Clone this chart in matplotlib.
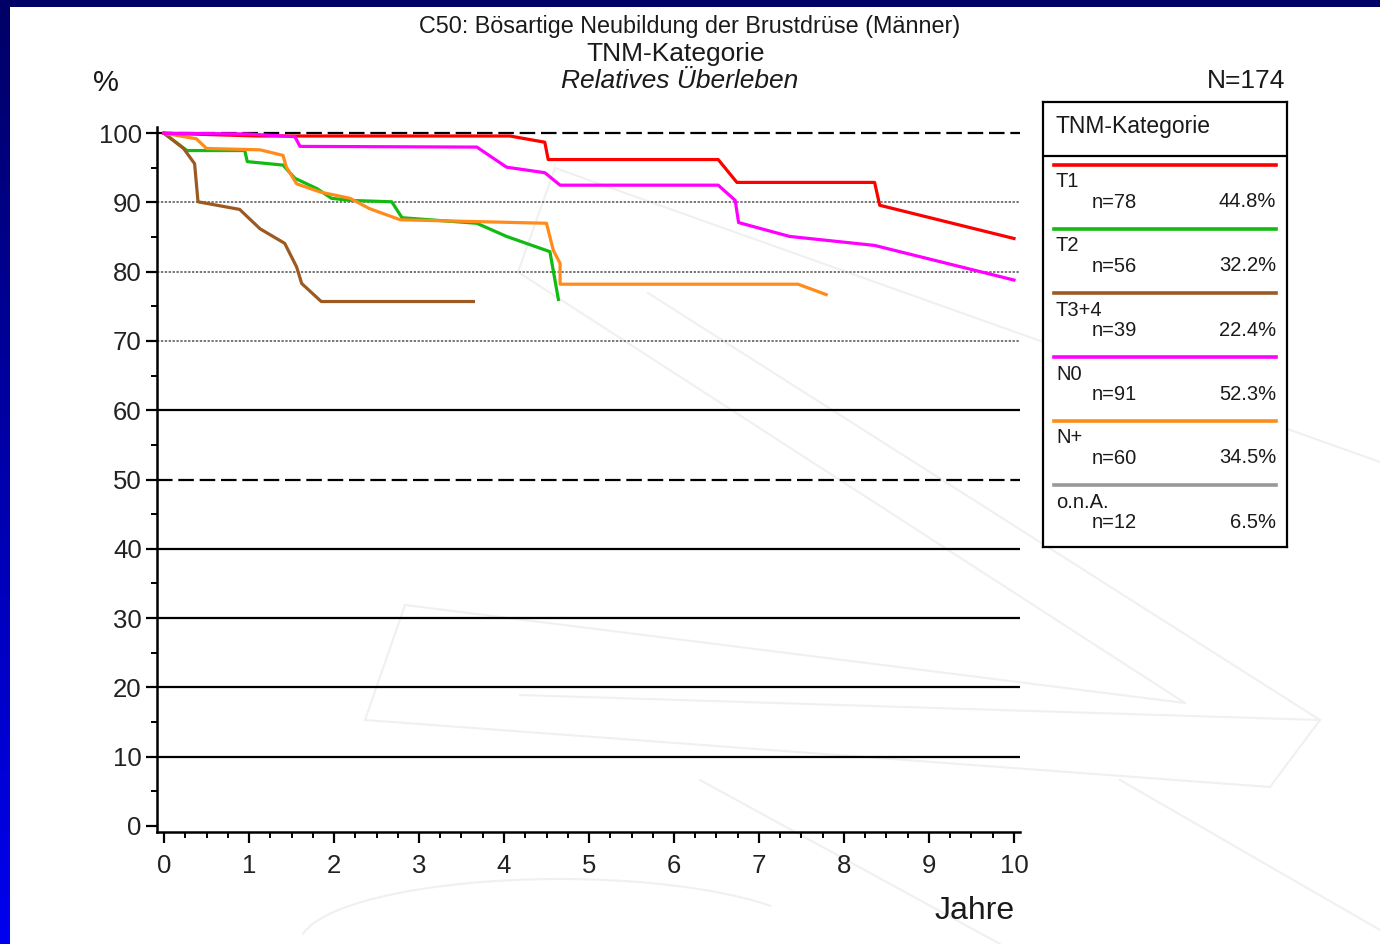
import numpy as np
import matplotlib
matplotlib.use("Agg")
import matplotlib.pyplot as plt
from matplotlib.colors import LinearSegmentedColormap

plt.rcParams['font.family'] = ['Liberation Sans', 'DejaVu Sans']

# ---------------- data ----------------
t1_t = [0, 1.1, 4.07, 4.48, 4.52, 6.52, 6.74, 8.36, 8.42, 10.0]
t1_v = [100, 99.6, 99.6, 98.7, 96.2, 96.2, 92.9, 92.9, 89.6, 84.8]

t2_t = [0, 0.27, 0.95, 0.98, 1.40, 1.54, 1.80, 1.97, 2.19, 2.68, 2.80, 3.68, 4.03, 4.54, 4.64]
t2_v = [100, 97.5, 97.5, 95.9, 95.4, 93.5, 92.0, 90.6, 90.3, 90.1, 87.8, 87.0, 85.1, 82.9, 76.0]

t34_t = [0, 0.23, 0.36, 0.40, 0.89, 1.13, 1.42, 1.56, 1.62, 1.85, 3.64]
t34_v = [100, 97.8, 95.6, 90.1, 89.0, 86.2, 84.1, 80.7, 78.3, 75.7, 75.7]

n0_t = [0, 0.97, 1.54, 1.60, 3.68, 4.03, 4.48, 4.66, 6.52, 6.72, 6.76, 7.36, 8.36, 10.0]
n0_v = [100, 99.9, 99.5, 98.1, 98.0, 95.1, 94.3, 92.5, 92.5, 90.3, 87.1, 85.1, 83.8, 78.8]

np_t = [0, 0.38, 0.50, 1.13, 1.40, 1.44, 1.56, 1.84, 2.19, 2.42, 2.78, 4.50, 4.58, 4.66, 4.66, 7.46, 7.79]
np_v = [100, 99.2, 97.8, 97.6, 96.8, 95.1, 92.7, 91.5, 90.6, 89.1, 87.5, 87.0, 83.1, 81.2, 78.2, 78.2, 76.7]

legend_names = ["T1", "T2", "T3+4", "N0", "N+", "o.n.A."]
legend_n = ["n=78", "n=56", "n=39", "n=91", "n=60", "n=12"]
legend_pct = ["44.8%", "32.2%", "22.4%", "52.3%", "34.5%", "6.5%"]
colors = ["#ff0000", "#11bb11", "#9c5a22", "#ff00ff", "#ff8c1a", "#999999"]

x_ticks = list(range(0, 11))
y_ticks = list(range(0, 101, 10))

title1 = "C50: Bösartige Neubildung der Brustdrüse (Männer)"
title2 = "TNM-Kategorie"
title3 = "Relatives Überleben"

# ---------------- figure ----------------
W, H = 1380, 944
fig = plt.figure(figsize=(W / 100, H / 100), dpi=100)
fig.patch.set_facecolor("white")

def fx(px):
    return px / W

def fy(py):
    return 1 - py / H

# blue frame (left gradient strip + top strip)
bg = fig.add_axes([0, 0, fx(10), 1])
grad = np.linspace(0, 1, 256).reshape(-1, 1)
cm = LinearSegmentedColormap.from_list("b", ["#000066", "#0000f0"])
bg.imshow(grad, aspect="auto", cmap=cm, extent=[0, 1, 0, 1], origin="upper")
bg.axis("off")
top = fig.add_axes([0, fy(7), 1, 7 / H])
top.set_facecolor("#000066")
top.set_xticks([]); top.set_yticks([])
for s in top.spines.values():
    s.set_visible(False)

# faint watermark lines
wm = fig.add_axes([0, 0, 1, 1], zorder=0)
wm.set_xlim(0, W); wm.set_ylim(H, 0); wm.axis("off")
wm_col = "#f0f0f0"
segs = [
    [(555, 168), (1380, 462)],
    [(555, 168), (518, 272)],
    [(518, 272), (1185, 703)],
    [(648, 293), (1320, 720)],
    [(405, 605), (1185, 703)],
    [(405, 605), (365, 720)],
    [(365, 720), (1270, 787)],
    [(1320, 720), (1270, 787)],
    [(520, 695), (1320, 720)],
    [(700, 780), (1000, 944)],
    [(1120, 780), (1380, 930)],
]
for (a, b) in segs:
    wm.plot([a[0], b[0]], [a[1], b[1]], color=wm_col, lw=1.5, zorder=0)
th = np.linspace(np.pi * 0.95, np.pi * 0.2, 60)
wm.plot(560 + 260 * np.cos(th), 944 - 65 * np.sin(th), color=wm_col, lw=1.5)

# main axes
ax = fig.add_axes([fx(157), fy(832), fx(1020) - fx(157), (832 - 127) / H], zorder=2)
ax.patch.set_alpha(0)
ax.set_xlim(-7 / 85, 10 + 6 / 85)
ax.set_ylim(-0.9, 100.9)

# reference lines
for yv in [60, 40, 30, 20, 10]:
    ax.axhline(yv, color="black", lw=1.6, zorder=1)
for yv in [100, 50]:
    ax.axhline(yv, color="black", lw=1.6, ls=(0, (7, 2.6)), zorder=1)
for yv in [90, 80, 70]:
    ax.axhline(yv, color="#777777", lw=1.4, ls=(0, (1.2, 0.8)), zorder=1)

lw = 2.3
ax.plot(t1_t, t1_v, color=colors[0], lw=lw, zorder=4)
ax.plot(t2_t, t2_v, color=colors[1], lw=lw, zorder=3)
ax.plot(t34_t, t34_v, color=colors[2], lw=lw, zorder=3)
ax.plot(n0_t, n0_v, color=colors[3], lw=lw, zorder=5)
ax.plot(np_t, np_v, color=colors[4], lw=lw, zorder=3)

for s in ["top", "right"]:
    ax.spines[s].set_visible(False)
for s in ["left", "bottom"]:
    ax.spines[s].set_linewidth(1.8)

ax.set_xticks(x_ticks)
ax.set_xticks(np.arange(0, 10.01, 0.25), minor=True)
ax.set_yticks(y_ticks)
ax.set_yticks(np.arange(0, 101, 5), minor=True)
ax.tick_params(axis="both", which="major", direction="out", length=8, width=1.6,
               labelsize=18.5, colors="black", labelcolor="#222222")
ax.tick_params(axis="both", which="minor", direction="out", length=4, width=1.4)
ax.tick_params(axis="x", which="major", pad=8)
ax.tick_params(axis="y", which="major", pad=3)

# titles and labels
tc = "#1a1a1a"
fig.text(fx(690), fy(27), title1, ha="center", va="center", fontsize=16.8, color=tc)
fig.text(fx(676), fy(54), title2, ha="center", va="center", fontsize=19, color=tc)
fig.text(fx(680), fy(81), title3, ha="center", va="center", fontsize=19, style="italic", color=tc)
fig.text(fx(106), fy(83), "%", ha="center", va="center", fontsize=21, color=tc)
fig.text(fx(1285), fy(81), "N=174", ha="right", va="center", fontsize=19, color=tc)
fig.text(fx(1015), fy(911), "Jahre", ha="right", va="center", fontsize=23, color=tc)

# legend box
lg = fig.add_axes([fx(1043), fy(547), fx(1287) - fx(1043), (547 - 102) / H], zorder=3)
lg.set_xlim(0, 244); lg.set_ylim(445, 0)
lg.set_xticks([]); lg.set_yticks([])
for s in lg.spines.values():
    s.set_linewidth(1.6)
lg.axhline(54, color="black", lw=1.6)
lg.text(13, 25, "TNM-Kategorie", ha="left", va="center", fontsize=16.5, color=tc)
for i, (nm, nn, pc, c) in enumerate(zip(legend_names, legend_n, legend_pct, colors)):
    y0 = 63 + i * 64
    lg.plot([11, 233], [y0, y0], color=c, lw=2.6)
    lg.text(13, y0 + 17, nm, ha="left", va="center", fontsize=14.5, color=tc)
    lg.text(49, y0 + 38, nn, ha="left", va="center", fontsize=14.5, color=tc)
    lg.text(233, y0 + 37, pc, ha="right", va="center", fontsize=14.5, color=tc)

fig.savefig("out.png", dpi=100, facecolor="white")
